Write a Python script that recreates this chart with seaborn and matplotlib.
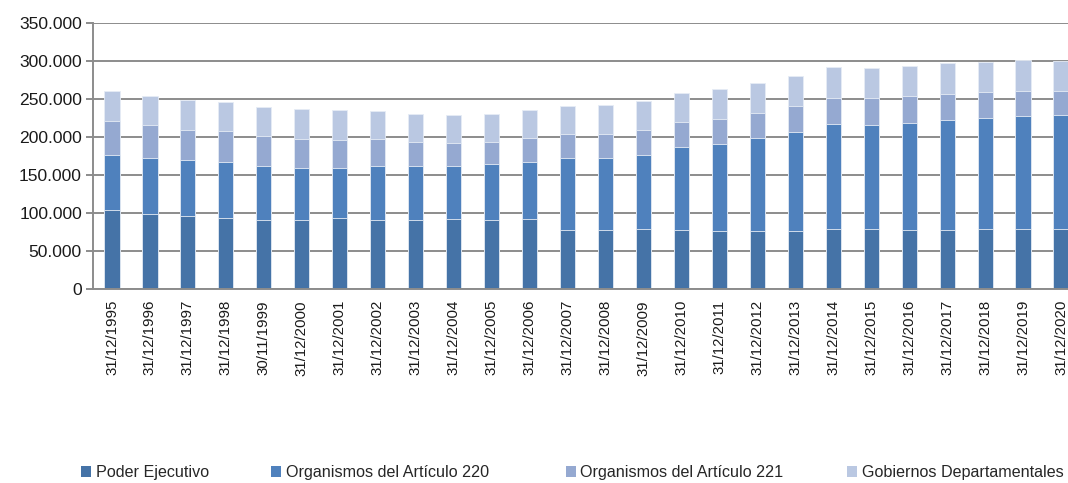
import numpy as np
import pandas as pd
import matplotlib
matplotlib.use("Agg")
import matplotlib.pyplot as plt
from matplotlib.patches import Patch
from matplotlib.ticker import FuncFormatter, MultipleLocator
import seaborn as sns

sns.set_theme(style="white")
plt.rcParams['font.family'] = ['Liberation Sans', 'DejaVu Sans']

# datos (miles de funcionarios)
fechas = ["31/12/1995", "31/12/1996", "31/12/1997", "31/12/1998", "30/11/1999",
          "31/12/2000", "31/12/2001", "31/12/2002", "31/12/2003", "31/12/2004",
          "31/12/2005", "31/12/2006", "31/12/2007", "31/12/2008", "31/12/2009",
          "31/12/2010", "31/12/2011", "31/12/2012", "31/12/2013", "31/12/2014",
          "31/12/2015", "31/12/2016", "31/12/2017", "31/12/2018", "31/12/2019",
          "31/12/2020"]
poder_ejecutivo = [103.6, 99.0, 96.5, 93.0, 91.2, 91.2, 93.0, 91.2, 91.2, 91.6,
                   90.4, 91.6, 78.0, 77.2, 78.5, 77.2, 76.8, 75.9, 76.8, 79.4,
                   78.5, 77.2, 77.2, 78.5, 78.5, 78.5]
art_220 = [72.7, 73.8, 73.5, 74.5, 71.1, 68.5, 66.7, 71.1, 71.1, 70.7,
           74.5, 75.9, 94.8, 95.6, 98.2, 110.1, 114.5, 122.8, 129.8, 137.7,
           137.3, 141.7, 145.6, 146.9, 149.6, 150.5]
art_221 = [45.2, 43.0, 39.6, 40.5, 38.7, 38.1, 36.8, 35.5, 31.6, 30.3,
           29.0, 31.6, 31.6, 31.6, 32.9, 32.0, 32.9, 33.3, 34.6, 34.6,
           35.9, 35.1, 34.2, 34.3, 32.9, 32.0]
gob_dep = [39.5, 38.2, 38.7, 38.5, 39.0, 39.2, 38.5, 36.4, 36.0, 36.4,
           36.8, 36.9, 36.8, 38.1, 38.2, 39.0, 39.4, 39.0, 39.1, 40.5,
           39.1, 39.5, 40.4, 39.5, 40.0, 39.0]

series = ["Poder Ejecutivo", "Organismos del Artículo 220",
          "Organismos del Artículo 221", "Gobiernos Departamentales"]
colores = ["#4573A7", "#4F81BD", "#95A9D1", "#BAC8E2"]

df = pd.DataFrame({"fecha": fechas,
                   series[0]: np.array(poder_ejecutivo) * 1000,
                   series[1]: np.array(art_220) * 1000,
                   series[2]: np.array(art_221) * 1000,
                   series[3]: np.array(gob_dep) * 1000})
acum = df[series].cumsum(axis=1)

fig = plt.figure(figsize=(10.68, 4.83), dpi=100)
ax = fig.add_axes([93 / 1068, 1 - 289 / 483, 987 / 1068, 266 / 483])

# barras apiladas: se dibuja de la suma total hacia abajo
for s, c in zip(series[::-1], colores[::-1]):
    sns.barplot(x=df["fecha"], y=acum[s], color=c, width=0.4, ax=ax,
                edgecolor="#E6ECF5", linewidth=0.6, saturation=1)

ax.set_ylim(0, 350000)
ax.set_xlim(-0.5, len(fechas) - 0.5)
ax.yaxis.set_major_locator(MultipleLocator(50000))
ax.yaxis.set_major_formatter(FuncFormatter(lambda v, p: f"{int(v):,}".replace(",", ".")))
ax.grid(axis="y", color="#8C8C8C", linewidth=1.4)
ax.set_axisbelow(True)
ax.set_xlabel("")
ax.set_ylabel("")

for lado in ["top", "right"]:
    ax.spines[lado].set_visible(False)
for lado in ["left", "bottom"]:
    ax.spines[lado].set_color("#8C8C8C")
    ax.spines[lado].set_linewidth(1.4)

ax.set_xticks(np.arange(len(fechas)))
ax.set_xticklabels(fechas, rotation=90, fontsize=10.8, color="#1A1A1A")
ax.tick_params(axis="x", which="major", length=0, pad=8)
ax.set_xticks(np.arange(len(fechas)) - 0.5, minor=True)
ax.tick_params(axis="x", which="minor", length=5, width=1.4, color="#8C8C8C", direction="out")
ax.tick_params(axis="y", length=5, width=1.4, color="#8C8C8C", labelsize=12.6,
               labelcolor="#1A1A1A", left=True, pad=3)

# leyenda: una entrada por posición
pos_x = [81, 271, 566, 847]
for s, c, px in zip(series, colores, pos_x):
    fig.legend(handles=[Patch(facecolor=c, edgecolor="none")], labels=[s],
               loc="center left", bbox_to_anchor=(px / 1068, 1 - 473 / 483),
               frameon=False, fontsize=11.6, handlelength=0.65, handleheight=0.65,
               handletextpad=0.25, borderpad=0, borderaxespad=0)

fig.savefig("out.png", dpi=100)
